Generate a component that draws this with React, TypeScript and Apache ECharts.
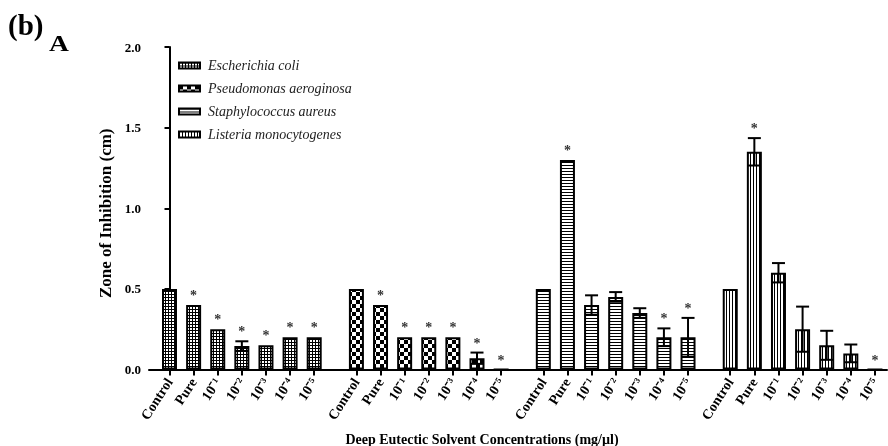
import React, { useEffect, useRef } from "react";
import * as echarts from "echarts";

// ---- data ----
const categories = ["Control", "Pure", "10⁻¹", "10⁻²", "10⁻³", "10⁻⁴", "10⁻⁵"];
const organisms = [
  "Escherichia coli",
  "Pseudomonas aeroginosa",
  "Staphylococcus aureus",
  "Listeria monocytogenes",
];
const ecoliMean = [0.5, 0.4, 0.25, 0.145, 0.15, 0.2, 0.2];
const ecoliErr = [0, 0, 0, 0.03, 0, 0, 0];
const ecoliSig = [0, 1, 1, 1, 1, 1, 1];
const paerMean = [0.5, 0.4, 0.2, 0.2, 0.2, 0.07, 0];
const paerErr = [0, 0, 0, 0, 0, 0.035, 0];
const paerSig = [0, 1, 1, 1, 1, 1, 1];
const saurMean = [0.5, 1.3, 0.4, 0.45, 0.35, 0.2, 0.2];
const saurErr = [0, 0, 0.06, 0.03, 0.03, 0.055, 0.12];
const saurSig = [0, 1, 0, 0, 0, 1, 1];
const listMean = [0.5, 1.35, 0.6, 0.25, 0.15, 0.1, 0];
const listErr = [0, 0.085, 0.06, 0.14, 0.09, 0.055, 0];
const listSig = [0, 1, 0, 0, 0, 0, 1];
const yTicks = [0, 0.5, 1.0, 1.5, 2.0];

const means = [ecoliMean, paerMean, saurMean, listMean];
const errs = [ecoliErr, paerErr, saurErr, listErr];
const sigs = [ecoliSig, paerSig, saurSig, listSig];

// layout of the x positions (quarter-category units)
const STEP = 4;
const GROUP = 31;
const xPos = (g: number, i: number) => g * GROUP + i * STEP;
const allPositions: number[] = [];
for (let g = 0; g < organisms.length; g++)
  for (let i = 0; i < categories.length; i++) allPositions.push(xPos(g, i));

const FONT = "'Liberation Serif', 'Times New Roman', serif";

function makePattern(w: number, h: number, draw: (ctx: CanvasRenderingContext2D) => void) {
  const c = document.createElement("canvas");
  c.width = w;
  c.height = h;
  const ctx = c.getContext("2d")!;
  ctx.fillStyle = "#fff";
  ctx.fillRect(0, 0, w, h);
  ctx.fillStyle = "#000";
  draw(ctx);
  return { image: c, repeat: "repeat" } as any;
}

export default function App() {
  const ref = useRef<HTMLDivElement>(null);
  useEffect(() => {
    document.body.style.margin = "0";
    document.body.style.overflow = "hidden";
    if (!ref.current) return;
    const chart = echarts.init(ref.current, null, { renderer: "svg" });

    const patterns = [
      makePattern(3, 3, (ctx) => {
        ctx.fillRect(0, 0, 3, 1);
        ctx.fillRect(0, 0, 1, 3);
      }),
      makePattern(8, 8, (ctx) => {
        ctx.fillRect(0, 0, 4, 4);
        ctx.fillRect(4, 4, 4, 4);
      }),
      makePattern(4, 3, (ctx) => {
        ctx.fillRect(0, 0, 4, 1);
      }),
      makePattern(3, 4, (ctx) => {
        ctx.fillRect(0, 0, 1, 4);
      }),
    ];

    const labelFor = (v: number) => {
      const g = Math.floor(v / GROUP);
      const r = v - g * GROUP;
      const i = Math.round(r / STEP);
      return categories[i] ?? "";
    };

    const barSeries = organisms.map((name, g) => ({
      name,
      type: "bar",
      barWidth: 15,
      barGap: "-100%",
      itemStyle: { color: patterns[g], borderColor: "#000", borderWidth: 2 },
      data: means[g].map((m, i) => [xPos(g, i), m]),
      z: 2,
    }));

    const errData: number[][] = [];
    organisms.forEach((_, g) =>
      categories.forEach((_, i) => errData.push([xPos(g, i), means[g][i], errs[g][i], sigs[g][i]]))
    );

    const option: any = {
      animation: false,
      backgroundColor: "#fff",
      grid: { left: 149, right: 1, top: 47, bottom: 76.5, containLabel: false },
      legend: {
        orient: "vertical",
        left: 173,
        top: 53,
        itemWidth: 21,
        itemHeight: 6,
        itemGap: 8,
        icon: "rect",
        data: organisms,
        textStyle: {
          fontFamily: FONT,
          fontStyle: "italic",
          fontSize: 14,
          lineHeight: 15,
          color: "#222",
          padding: [0, 0, 0, 3],
        },
      },
      xAxis: {
        type: "value",
        min: -3.4,
        max: 119,
        splitLine: { show: false },
        axisLine: { show: true, lineStyle: { color: "#000", width: 2 } },
        axisTick: {
          show: true,
          customValues: allPositions,
          length: 6,
          lineStyle: { color: "#000", width: 2 },
        },
        axisLabel: {
          customValues: allPositions,
          rotate: 57,
          margin: 10,
          fontFamily: FONT,
          fontWeight: "bold",
          fontSize: 14,
          color: "#000",
          formatter: (v: number) => labelFor(v),
        },
      },
      yAxis: {
        type: "value",
        min: yTicks[0],
        max: yTicks[yTicks.length - 1],
        interval: 0.5,
        name: "Zone of Inhibition (cm)",
        nameLocation: "middle",
        nameGap: 34,
        nameTextStyle: {
          fontFamily: FONT,
          fontWeight: "bold",
          fontSize: 17,
          color: "#000",
          padding: [0, 10, 0, 0],
        },
        splitLine: { show: false },
        axisLine: { show: true, lineStyle: { color: "#000", width: 2 } },
        axisTick: { show: true, length: 5, lineStyle: { color: "#000", width: 2 } },
        axisLabel: {
          margin: 8,
          fontFamily: FONT,
          fontWeight: "bold",
          fontSize: 13,
          color: "#000",
          formatter: (v: number) => v.toFixed(1),
        },
      },
      graphic: [
        {
          type: "text",
          left: 8,
          top: 10,
          style: { text: "(b)", font: `bold 29px ${FONT}`, fill: "#000" },
        },
        {
          type: "text",
          x: 49,
          y: 43,
          scaleX: 1.15,
          style: { text: "A", font: `bold 24px ${FONT}`, fill: "#000", verticalAlign: "middle" },
        },
        {
          type: "text",
          x: 482,
          y: 439,
          style: {
            text: "Deep Eutectic Solvent Concentrations (mg/µl)",
            font: `bold 14px ${FONT}`,
            fill: "#000",
            align: "center",
            verticalAlign: "middle",
          },
        },
      ],
      series: [
        ...barSeries,
        {
          type: "custom",
          name: "errors",
          z: 5,
          encode: { x: 0, y: 1 },
          itemStyle: { color: "#222" },
          data: errData,
          renderItem: (params: any, api: any) => {
            const x = api.value(0);
            const y = api.value(1);
            const e = api.value(2);
            const s = api.value(3);
            const top = api.coord([x, y + e]);
            const bot = api.coord([x, y - e]);
            const children: any[] = [];
            const ls = { stroke: "#000", lineWidth: 2 };
            if (e > 0) {
              children.push({ type: "line", shape: { x1: top[0], y1: top[1], x2: bot[0], y2: bot[1] }, style: ls });
              children.push({ type: "line", shape: { x1: top[0] - 6.5, y1: top[1], x2: top[0] + 6.5, y2: top[1] }, style: ls });
              children.push({ type: "line", shape: { x1: bot[0] - 6.5, y1: bot[1], x2: bot[0] + 6.5, y2: bot[1] }, style: ls });
            }
            if (s) {
              children.push({
                type: "text",
                x: top[0],
                y: top[1] - 9.5,
                style: {
                  text: "*",
                  font: `bold 14px ${FONT}`,
                  fill: "#333",
                  align: "center",
                  verticalAlign: "middle",
                },
              });
            }
            return { type: "group", children };
          },
        },
      ],
    };
    chart.setOption(option);
    return () => chart.dispose();
  }, []);
  return <div ref={ref} style={{ width: 888, height: 446, willChange: "transform" }} />;
}
